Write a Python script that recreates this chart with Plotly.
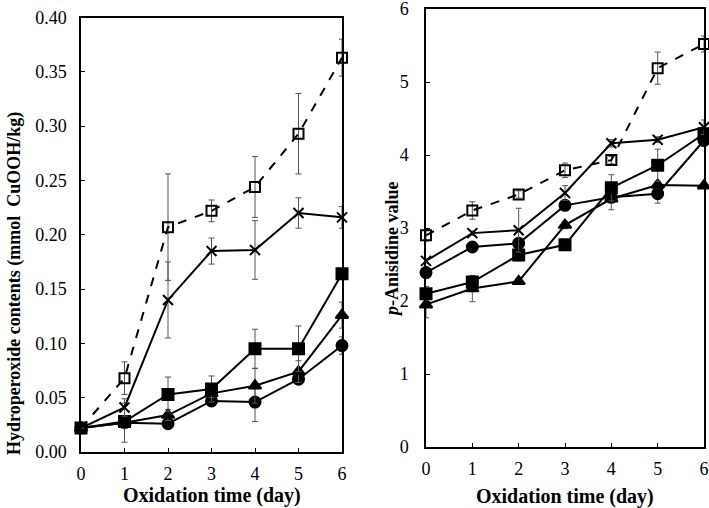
import plotly.graph_objects as go

days = [0, 1, 2, 3, 4, 5, 6]

# Hydroperoxide contents (mmol CuOOH/kg)
hp_open_sq = [0.022, 0.068, 0.207, 0.222, 0.244, 0.293, 0.363]
hp_open_sq_err = [0.0, 0.015, 0.049, 0.010, 0.028, 0.037, 0.017]
hp_x = [0.022, 0.041, 0.140, 0.185, 0.186, 0.220, 0.216]
hp_x_err = [0.0, 0.008, 0.035, 0.012, 0.027, 0.014, 0.010]
hp_fill_sq = [0.022, 0.028, 0.053, 0.058, 0.095, 0.095, 0.164]
hp_fill_sq_err = [0.0, 0.005, 0.016, 0.012, 0.018, 0.021, 0.003]
hp_tri = [0.022, 0.027, 0.034, 0.054, 0.061, 0.074, 0.126]
hp_tri_err = [0.0, 0.005, 0.005, 0.004, 0.016, 0.010, 0.012]
hp_circ = [0.022, 0.027, 0.026, 0.047, 0.046, 0.067, 0.098]
hp_circ_err = [0.0, 0.018, 0.004, 0.004, 0.018, 0.004, 0.008]

# p-Anisidine value
av_open_sq = [2.90, 3.24, 3.46, 3.79, 3.93, 5.19, 5.52]
av_open_sq_err = [0.08, 0.12, 0.05, 0.10, 0.05, 0.22, 0.11]
av_x = [2.55, 2.93, 2.97, 3.48, 4.16, 4.21, 4.38]
av_x_err = [0.03, 0.03, 0.30, 0.10, 0.05, 0.04, 0.10]
av_fill_sq = [2.10, 2.26, 2.63, 2.77, 3.55, 3.86, 4.29]
av_fill_sq_err = [0.10, 0.08, 0.08, 0.03, 0.18, 0.22, 0.08]
av_tri = [1.95, 2.17, 2.27, 3.04, 3.40, 3.59, 3.58]
av_tri_err = [0.18, 0.18, 0.03, 0.05, 0.15, 0.05, 0.03]
av_circ = [2.39, 2.74, 2.79, 3.31, 3.42, 3.47, 4.20]
av_circ_err = [0.03, 0.03, 0.03, 0.03, 0.05, 0.13, 0.08]

FONT = "Liberation Serif, Times New Roman, serif"
W, H = 709, 508

def px(x):
    return x / W

def py(y):
    return 1 - y / H

series_style = [
    ("square-open", "dash", 10),
    ("x-thin", "solid", 10),
    ("square", "solid", 11),
    ("triangle-up", "solid", 11),
    ("circle", "solid", 11),
]

fig = go.Figure()

def add_series(ys, errs, style, xa, ya, name):
    sym, dash, size = style
    fig.add_trace(go.Scatter(
        x=days, y=ys, mode="lines+markers", name=name, showlegend=False,
        xaxis=xa, yaxis=ya, cliponaxis=False,
        line=dict(color="black", width=2, dash=dash),
        marker=dict(symbol=sym, size=size, color="black",
                    line=dict(color="black", width=2)),
        error_y=dict(type="data", array=errs, visible=True,
                     color="#555555", thickness=1, width=3),
    ))

left = [(hp_circ, hp_circ_err, 4), (hp_tri, hp_tri_err, 3), (hp_fill_sq, hp_fill_sq_err, 2),
        (hp_x, hp_x_err, 1), (hp_open_sq, hp_open_sq_err, 0)]
right = [(av_circ, av_circ_err, 4), (av_tri, av_tri_err, 3), (av_fill_sq, av_fill_sq_err, 2),
         (av_x, av_x_err, 1), (av_open_sq, av_open_sq_err, 0)]
names = ["Open square", "Cross", "Filled square", "Triangle", "Circle"]
for ys, errs, i in left:
    add_series(ys, errs, series_style[i], "x", "y", names[i])
for ys, errs, i in right:
    add_series(ys, errs, series_style[i], "x2", "y2", names[i])

axis_common = dict(showgrid=False, zeroline=False, showline=True, linecolor="black",
                   linewidth=1.5, mirror=True, ticks="inside", ticklen=4,
                   tickcolor="black", tickwidth=1, automargin=False,
                   ticklabeloverflow="allow",
                   tickfont=dict(family=FONT, size=18, color="black"))

fig.update_layout(
    width=W, height=H,
    margin=dict(l=0, r=0, t=0, b=0, autoexpand=False),
    paper_bgcolor="white", plot_bgcolor="white",
    xaxis=dict(domain=[px(81), px(342)], range=[0, 6], tickvals=days,
               anchor="y", ticklabelstandoff=5, **axis_common),
    yaxis=dict(domain=[py(452), py(17.5)], range=[0, 0.40],
               tickvals=[0, 0.05, 0.10, 0.15, 0.20, 0.25, 0.30, 0.35, 0.40],
               tickformat=".2f", anchor="x", ticklabelstandoff=9, **axis_common),
    xaxis2=dict(domain=[px(426), px(704)], range=[0, 6], tickvals=days,
                anchor="y2", ticklabelstandoff=5, **axis_common),
    yaxis2=dict(domain=[py(447), py(9)], range=[0, 6],
                tickvals=[0, 1, 2, 3, 4, 5, 6], anchor="x2",
                ticklabelstandoff=12, **axis_common),
)

def ann(text, x, y, size, angle=0):
    fig.add_annotation(text=text, x=px(x), y=py(y), xref="paper", yref="paper",
                       xanchor="center", yanchor="middle", showarrow=False,
                       textangle=angle, font=dict(family=FONT, size=size, color="black"))

ann("<b>Oxidation time (day)</b>", 212, 495, 20)
ann("<b>Oxidation time (day)</b>", 565, 496, 20)
ann("<b>Hydroperoxide contents (mmol  CuOOH/kg)</b>", 14, 284, 18, -90)
ann("<b><i>p</i>-Anisidine value</b>", 392, 249, 18, -90)

fig.write_html("out.html", config={"displayModeBar": False},
               post_script="document.body.style.margin='0';document.body.style.overflow='hidden';")
